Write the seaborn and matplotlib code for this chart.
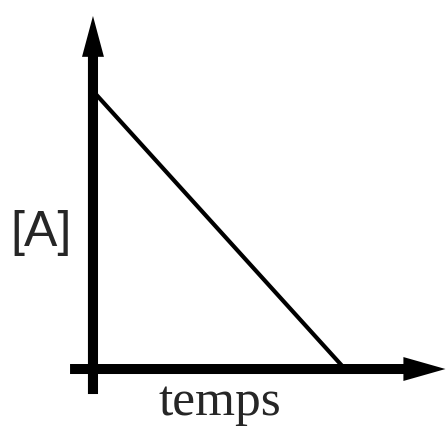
import matplotlib
matplotlib.use("Agg")
import matplotlib.pyplot as plt
from matplotlib.patches import FancyArrow
import seaborn as sns

sns.set_style("white")

# Zero-order decay sketch: [A] falls linearly to zero
temps = [0, 10]
conc = [10, 0]
x_label = "temps"
y_label = "[A]"

fig = plt.figure(figsize=(4.47, 4.27), dpi=100)
ax = fig.add_axes([0, 0, 1, 1])
ax.set_xlim(-3.69, 14.05)
ax.set_ylim(-2.05, 13.31)
ax.axis("off")

# concentration line
sns.lineplot(x=temps, y=conc, color="black", linewidth=3, ax=ax)

# hand-drawn style axes with arrow heads
ax.add_patch(FancyArrow(0, -0.9, 0, 13.6, width=0.4, head_width=0.87,
                        head_length=1.47, length_includes_head=True,
                        color="black", lw=0))
ax.add_patch(FancyArrow(-0.91, 0, 14.9, 0, width=0.36, head_width=0.86,
                        head_length=1.67, length_includes_head=True,
                        color="black", lw=0))

ax.text(-2.06, 4.93, y_label, fontsize=36, family="Liberation Sans",
        ha="center", va="center")
ax.text(5.04, -1.62, x_label, fontsize=37, family="Liberation Serif",
        ha="center", va="baseline")

fig.savefig("out.png", dpi=100)
